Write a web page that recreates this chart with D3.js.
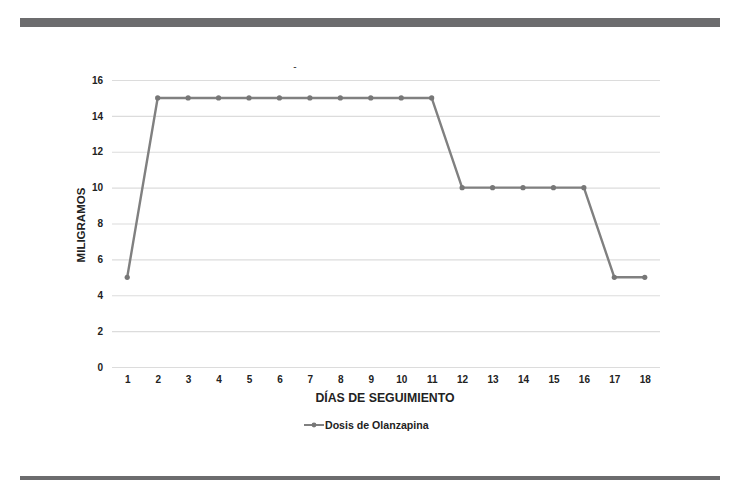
<!DOCTYPE html>
<html><head><meta charset="utf-8">
<script src="https://cdn.jsdelivr.net/npm/d3@7"></script>
<style>body{margin:0;background:#fff}svg{display:block}</style>
</head><body>
<script>
const days = [1,2,3,4,5,6,7,8,9,10,11,12,13,14,15,16,17,18];
const dosis = [5,15,15,15,15,15,15,15,15,15,15,10,10,10,10,10,5,5];
const yTicks = [0,2,4,6,8,10,12,14,16];
const seriesName = "Dosis de Olanzapina";

const W = 740, H = 501;
const svg = d3.select("body").append("svg").attr("width", W).attr("height", H);
const font = "Liberation Sans, Arial, sans-serif";

svg.append("rect").attr("x",20).attr("y",18).attr("width",700).attr("height",9).attr("fill","#6c6c6e");
svg.append("rect").attr("x",20).attr("y",476).attr("width",700).attr("height",4).attr("fill","#6c6c6e");

const x = d3.scalePoint().domain(days).range([112,660]).padding(0.5);
const y = d3.scaleLinear().domain([0,16]).range([367,80]);

const g = svg.append("g");
const yAxis = d3.axisLeft(y).tickValues(yTicks).tickSize(-(660-112)).tickPadding(9);
const ya = g.append("g").attr("transform","translate(112,0)").call(yAxis);
ya.select(".domain").remove();
ya.selectAll(".tick line").attr("stroke","#dcdcdc").attr("stroke-width",1.2);
ya.selectAll(".tick text").attr("fill","#222").style("font-family",font).style("font-size","10px").style("font-weight","bold");

const xAxis = d3.axisBottom(x).tickSize(0).tickPadding(9);
const xa = g.append("g").attr("transform","translate(0,367)").call(xAxis);
xa.select(".domain").remove();
xa.selectAll(".tick text").attr("fill","#222").style("font-family",font).style("font-size","10px").style("font-weight","bold");

const line = d3.line().x((d,i)=>x(days[i])).y(d=>y(d));
g.append("path").datum(dosis).attr("d",line).attr("fill","none").attr("stroke","#808080").attr("stroke-width",2.4).attr("stroke-linejoin","round");
g.selectAll("circle.pt").data(dosis).enter().append("circle").attr("class","pt")
  .attr("cx",(d,i)=>x(days[i])).attr("cy",d=>y(d)).attr("r",2.6).attr("fill","#777");

svg.append("text").attr("x",385).attr("y",402).attr("text-anchor","middle")
  .style("font-family",font).style("font-size","12.3px").style("font-weight","bold").attr("fill","#222").text("DÍAS DE SEGUIMIENTO");
svg.append("text").attr("transform","translate(85,225) rotate(-90)").attr("text-anchor","middle")
  .style("font-family",font).style("font-size","11.5px").style("font-weight","bold").attr("fill","#222").text("MILIGRAMOS");
svg.append("text").attr("x",295).attr("y",70).attr("text-anchor","middle")
  .style("font-family",font).style("font-size","10px").attr("fill","#333").text("-");

const lg = svg.append("g");
lg.append("line").attr("x1",304).attr("x2",324).attr("y1",425).attr("y2",425).attr("stroke","#808080").attr("stroke-width",2);
lg.append("circle").attr("cx",314).attr("cy",425).attr("r",2.4).attr("fill","#777");
lg.append("text").attr("x",325).attr("y",429).style("font-family",font).style("font-size","10.6px").style("font-weight","bold").attr("fill","#222").text(seriesName);
</script>
</body></html>
